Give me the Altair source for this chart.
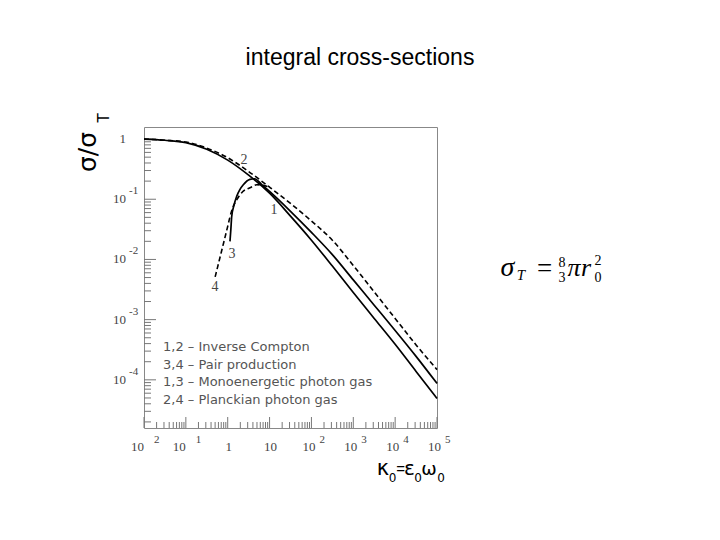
import altair as alt
import pandas as pd

TITLE = "integral cross-sections"

# log10(kappa0) and log10(sigma/sigma_T)
c1_lx = [-2, -1.5, -1, -0.5, 0, 0.5, 1, 1.5, 2, 2.5, 3, 3.5, 4, 4.5, 5]
c1_ly = [0.0, -0.02, -0.06, -0.17, -0.35, -0.60, -0.90, -1.28, -1.68, -2.11, -2.55, -2.98, -3.41, -3.86, -4.31]
c2_lx = [-2, -1.5, -1, -0.5, 0, 0.5, 1, 1.5, 2, 2.5, 3, 3.5, 4, 4.5, 5]
c2_ly = [0.0, -0.02, -0.05, -0.15, -0.31, -0.54, -0.80, -1.07, -1.36, -1.68, -2.10, -2.54, -2.98, -3.42, -3.83]
c3_lx = [0.054, 0.075, 0.095, 0.15, 0.215, 0.29, 0.372, 0.53, 0.64, 0.82, 1.0, 1.5, 2.0, 2.5, 3.0, 3.5, 4.0, 4.5, 5.0]
c3_ly = [-1.70, -1.50, -1.29, -1.10, -0.95, -0.84, -0.76, -0.67, -0.66, -0.76, -0.87, -1.20, -1.55, -1.92, -2.34, -2.76, -3.18, -3.61, -4.06]
c4_lx = [-0.30, -0.2, -0.1, 0.0, 0.055, 0.12, 0.215, 0.35, 0.53, 0.69, 0.85, 1.0]
c4_ly = [-2.29, -2.01, -1.73, -1.45, -1.29, -1.14, -1.01, -0.88, -0.81, -0.76, -0.77, -0.80]

curve_names = ["1", "2", "3", "4"]
curve_dashed = ["no", "yes", "no", "yes"]

legend_lines = [
    "1,2 \u2013 Inverse Compton",
    "3,4 \u2013 Pair production",
    "1,3 \u2013 Monoenergetic photon gas",
    "2,4 \u2013 Planckian  photon gas",
]

xlab_vals = [0.01, 0.1, 1, 10, 100, 1e3, 1e4, 1e5]
xlab_base = ["10", "10", "1", "10", "10", "10", "10", "10"]
xlab_exp = ["2", "1", "", "", "2", "3", "4", "5"]

ylab_vals = [1, 0.1, 0.01, 1e-3, 1e-4]
ylab_base = ["1", "10", "10", "10", "10"]
ylab_exp = ["", "-1", "-2", "-3", "-4"]

# ---------------------------------------------------------------
W, H = 293, 301
OX, OY = 144, 127  # plot origin on the page

rows = []
for name, dashed, lxs, lys in zip(curve_names, curve_dashed,
                                  [c1_lx, c2_lx, c3_lx, c4_lx],
                                  [c1_ly, c2_ly, c3_ly, c4_ly]):
    for i, (a, b) in enumerate(zip(lxs, lys)):
        rows.append({"curve": name, "dashed": dashed, "i": i, "x": 10.0 ** a, "y": 10.0 ** b})
curves = pd.DataFrame(rows)

xs = alt.Scale(type="log", domain=[0.01, 1e5], nice=False)
ys = alt.Scale(type="log", domain=[10 ** -4.8, 10 ** 0.2], nice=False)

X = alt.X("x:Q", scale=xs, axis=None)
Y = alt.Y("y:Q", scale=ys, axis=None)

solid = alt.Chart(curves).transform_filter("datum.dashed == 'no'").mark_line(
    color="black", strokeWidth=1.7, interpolate="monotone"
).encode(x=X, y=Y, detail="curve:N", order="i:Q")

dashed = alt.Chart(curves).transform_filter("datum.dashed == 'yes'").mark_line(
    color="black", strokeWidth=1.6, strokeDash=[5, 3], interpolate="monotone"
).encode(x=X, y=Y, detail="curve:N", order="i:Q")

# ticks
xmajor = [10.0 ** d for d in range(-2, 6)]
xminor = [k * 10.0 ** d for d in range(-2, 5) for k in range(2, 10)]
ymajor = [10.0 ** d for d in range(-4, 1)]
yminor = [k * 10.0 ** d for d in range(-5, 0) for k in range(2, 10)
          if 10 ** -4.8 <= k * 10.0 ** d <= 10 ** 0.2]

TC = "#777777"
xt_major = alt.Chart(pd.DataFrame({"x": xmajor})).mark_rule(color=TC, strokeWidth=1).encode(
    x=X, y=alt.value(H), y2=alt.value(H - 11))
xt_minor = alt.Chart(pd.DataFrame({"x": xminor})).mark_rule(color=TC, strokeWidth=1).encode(
    x=X, y=alt.value(H), y2=alt.value(H - 6))
yt_major = alt.Chart(pd.DataFrame({"y": ymajor})).mark_rule(color=TC, strokeWidth=1).encode(
    y=Y, x=alt.value(0), x2=alt.value(12))
yt_minor = alt.Chart(pd.DataFrame({"y": yminor})).mark_rule(color=TC, strokeWidth=1).encode(
    y=Y, x=alt.value(0), x2=alt.value(7))

# tick labels
LF = "Liberation Serif"
LC = "#444444"
xl = pd.DataFrame({"x": xlab_vals, "base": xlab_base, "exp": xlab_exp})
xl["grp"] = ["neg" if v < 1 else ("plain" if v < 100 else "pos") for v in xlab_vals]


def xlabels(grp, base_align, base_dx, exp_dx):
    src = alt.Chart(xl).transform_filter(f"datum.grp == '{grp}'")
    b = src.mark_text(font=LF, fontSize=13, color=LC, align=base_align, baseline="middle", dx=base_dx).encode(
        x=X, y=alt.value(H + 19), text="base:N")
    layers = [b]
    if grp != "plain":
        e = src.mark_text(font=LF, fontSize=11, color=LC, align="left", baseline="middle", dx=exp_dx).encode(
            x=X, y=alt.value(H + 12), text="exp:N")
        layers.append(e)
    return layers


xlab_layers = (xlabels("neg", "right", 0, 10) + xlabels("plain", "center", 1, 0)
               + xlabels("pos", "right", 4, 8))

yl = pd.DataFrame({"y": ylab_vals, "base": ylab_base, "exp": ylab_exp})
yb = alt.Chart(yl).mark_text(font=LF, fontSize=13, color=LC, align="right", baseline="middle").encode(
    y=Y, x=alt.value(-18), text="base:N")
ye = alt.Chart(yl).transform_filter("datum.exp != ''").mark_text(
    font=LF, fontSize=11, color=LC, align="left", baseline="middle", dy=-8).encode(
    y=Y, x=alt.value(-15), text="exp:N")


def txt(s, ax, ay, size, font="DejaVu Sans", align="center", baseline="alphabetic",
        color="black", style="normal", angle=None):
    kw = dict(font=font, fontSize=size, align=align, baseline=baseline, color=color, fontStyle=style)
    if angle is not None:
        kw["angle"] = angle
    return alt.Chart(pd.DataFrame({"t": [s]})).mark_text(**kw).encode(
        text="t:N", x=alt.value(ax - OX), y=alt.value(ay - OY))


texts = []
# title
texts.append(txt(TITLE, 360, 65, 23, font="Liberation Sans"))
# y title (rotated)
texts.append(txt("\u03c3/\u03c3", 96, 152, 25, angle=270))
texts.append(txt("T", 109, 118, 15, angle=270))
# x title
XB = 475
texts.append(txt("\u03ba", 383, XB, 21))
texts.append(txt("0", 392.5, 482, 12))
texts.append(txt("=", 400.5, 474, 15, font="Liberation Sans"))
texts.append(txt("\u03b5", 409.5, XB, 20))
texts.append(txt("0", 418, 482, 12))
texts.append(txt("\u03c9", 429, XB, 18.5))
texts.append(txt("0", 441, 482, 12))
# formula sigma_T = 8/3 pi r0^2
FS = "Liberation Serif"
FB = 276
texts.append(txt("\u03c3", 507.5, FB, 28, font=FS, style="italic"))
texts.append(txt("T", 521, 280, 15, font=FS, style="italic"))
texts.append(txt("=", 544.5, 277, 27, font=FS))
texts.append(txt("8", 562, 267, 14, font=FS))
texts.append(txt("3", 562, 282, 14, font=FS))
texts.append(txt("\u03c0", 574, FB, 26, font=FS, style="italic"))
texts.append(txt("r", 586, FB, 26, font=FS, style="italic"))
texts.append(txt("2", 598, 265, 14, font=FS))
texts.append(txt("0", 598, 282, 14, font=FS))
# curve labels
for s, ax, ay in [("1", 274, 210), ("2", 244, 160), ("3", 232, 254), ("4", 215, 287)]:
    texts.append(txt(s, ax, ay, 14, font=LF, baseline="middle", color="#444444"))
# legend text
for line, ay in zip(legend_lines, [347, 365, 382, 400]):
    texts.append(txt(line, 163, ay, 13, align="left", baseline="middle", color="#555555"))

chart = alt.layer(
    xt_major, xt_minor, yt_major, yt_minor,
    solid, dashed,
    *xlab_layers, yb, ye,
    *texts,
).properties(
    width=W, height=H,
    autosize=alt.AutoSizeParams(type="none"),
    padding={"left": OX - 8, "top": OY - 8, "right": 720 - 16 - (OX - 8) - W, "bottom": 540 - 16 - (OY - 8) - H},
    background="white",
).configure_view(stroke="#888888", strokeWidth=1)

chart.save("out.html", embed_options={"renderer": "svg", "actions": False})
